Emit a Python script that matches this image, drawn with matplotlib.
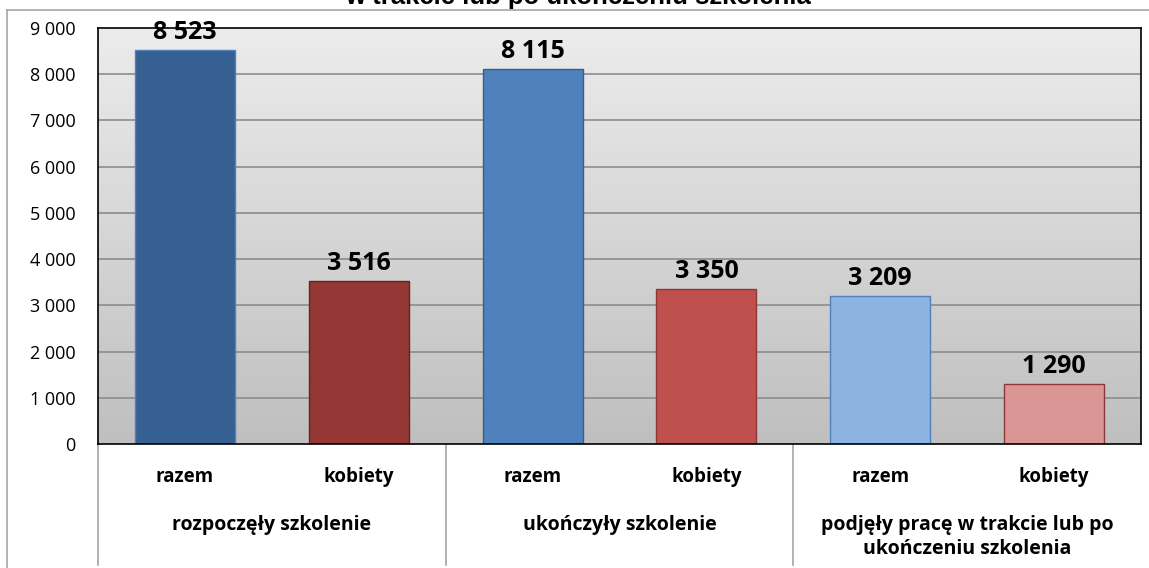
import numpy as np
import matplotlib
matplotlib.use("Agg")
import matplotlib.pyplot as plt
from matplotlib.lines import Line2D
from matplotlib.colors import LinearSegmentedColormap

plt.rcParams['font.family'] = ['Open Sans', 'DejaVu Sans']

groups = ["rozpoczęły szkolenie", "ukończyły szkolenie",
          "podjęły pracę w trakcie lub po\nukończeniu szkolenia"]
sub_labels = ["razem", "kobiety", "razem", "kobiety", "razem", "kobiety"]
values = [8523, 3516, 8115, 3350, 3209, 1290]
value_labels = ["8 523", "3 516", "8 115", "3 350", "3 209", "1 290"]
colors = ["#376092", "#953735", "#4f81bd", "#c0504d", "#8db3e2", "#d99694"]
edges = ["#4f81bd", "#632523", "#385d8a", "#8c3836", "#4f81bd", "#8c3836"]
yticks = [0, 1000, 2000, 3000, 4000, 5000, 6000, 7000, 8000, 9000]
ytick_labels = ["0", "1 000", "2 000", "3 000", "4 000", "5 000", "6 000", "7 000", "8 000", "9 000"]
title = "w trakcie lub po ukończeniu szkolenia"

W, H = 1149, 568
fig = plt.figure(figsize=(W/100, H/100), dpi=100)
L, R, T, B = 98, 1141, 28, 444
ax = fig.add_axes([L/W, 1-B/H, (R-L)/W, (B-T)/H])

x = np.arange(len(values))
ax.set_xlim(-0.5, len(values)-0.5)
ax.set_ylim(0, 9000)

grad = np.linspace(0, 1, 256).reshape(-1, 1)
cmap = LinearSegmentedColormap.from_list("g", ["#bfbfbf", "#ececec"])
ax.imshow(grad, aspect='auto', cmap=cmap, origin='lower',
          extent=[-0.5, len(values)-0.5, 0, 9000], zorder=0)

for yv in yticks[1:-1]:
    ax.axhline(yv, color="#8c8c8c", lw=1.2, zorder=1)

ax.bar(x, values, width=0.575, color=colors, edgecolor=edges, lw=1, zorder=2)
for xi, v, lab in zip(x, values, value_labels):
    ax.text(xi, v + 110, lab, ha='center', va='bottom', fontsize=18,
            fontweight='bold', color='black', zorder=3)

ax.set_yticks(yticks)
ax.set_yticklabels(ytick_labels, fontsize=13)
ax.tick_params(axis='y', length=0, pad=16)
ax.set_xticks([])
for s in ax.spines.values():
    s.set_color('black')
    s.set_linewidth(1.2)

trans = ax.get_xaxis_transform()
for xi, lab in zip(x, sub_labels):
    ax.text(xi, -0.079, lab, ha='center', va='center', fontsize=13.5,
            fontweight='bold', transform=trans)
for gi, g in enumerate(groups):
    ax.text(2*gi + 0.5, -0.17, g, ha='center', va='top', fontsize=14,
            fontweight='bold', transform=trans, linespacing=1.3)

for sx in [-0.5, 1.5, 3.5]:
    ax.add_line(Line2D([sx, sx], [0, -121/416], transform=trans, color='#a6a6a6',
                       lw=1.2, clip_on=False))

fig.add_artist(Line2D([7/W, 7/W], [0, 1-10/H], transform=fig.transFigure,
                      color='#a6a6a6', lw=1.2))
fig.add_artist(Line2D([7/W, 1], [1-10/H, 1-10/H], transform=fig.transFigure,
                      color='#a6a6a6', lw=1.2))

fig.text(578/W, 1-4/H, title, ha='center', va='baseline', fontsize=18.5,
         fontweight='bold', family='Liberation Sans')

fig.savefig("out.png", dpi=100)
